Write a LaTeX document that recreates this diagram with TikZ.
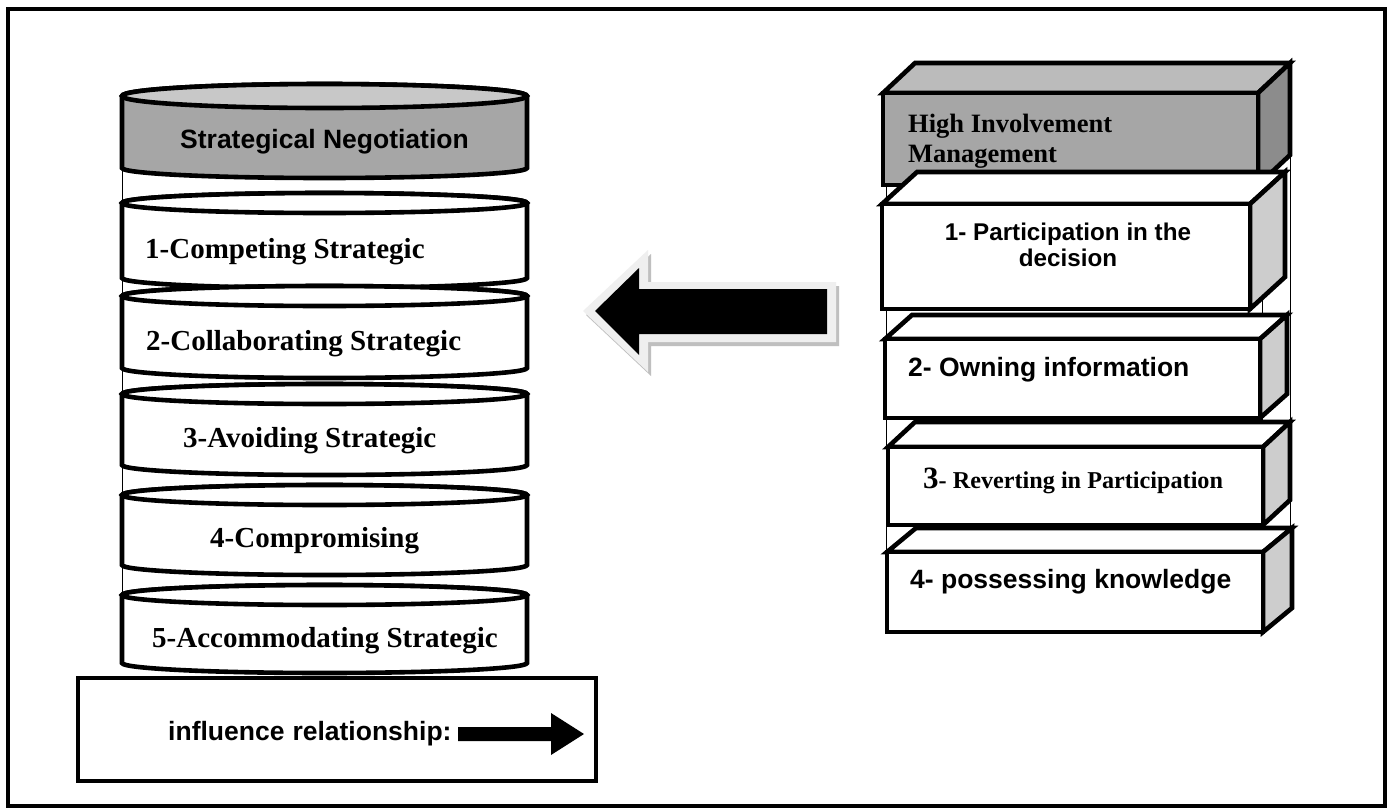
\documentclass[tikz,border=0pt]{standalone}
\usepackage{fontspec}
\setmainfont{Liberation Serif}
\newfontfamily\arialf{Liberation Sans}
\definecolor{cylgray}{HTML}{A6A6A6}
\definecolor{cyltop}{HTML}{C8C8C8}
\definecolor{hdrtop}{HTML}{BBBBBB}
\definecolor{hdrfront}{HTML}{A6A6A6}
\definecolor{hdrside}{HTML}{8C8C8C}
\definecolor{boxside}{HTML}{CDCDCD}
\definecolor{arrowrim}{HTML}{EFEFEF}
\definecolor{arrowshadow}{HTML}{BFBFBF}
% cylinder: #1 top centre y, #2 bottom centre y, #3 body fill, #4 top fill, #5 top radius
\newcommand\mycyl[5]{%
  \draw[heavy, fill=#3] (122,-#1) -- (122,-#2)
    arc[start angle=180,end angle=360,x radius=202.5,y radius=10]
    -- (527,-#1) arc[start angle=0,end angle=180,x radius=202.5,y radius=#5] -- cycle;
  \draw[heavy, fill=#4] (324.5,-#1) ellipse[x radius=202.5,y radius=#5];
}
% 3d box: x1,y1,x2,y2,dx,dy,front,top,side
\newcommand\mybox[9]{%
  \draw[heavy, fill=#8] (#1,-#2) -- (#1+#5,-#2+#6) -- (#3+#5,-#2+#6) -- (#3,-#2) -- cycle;
  \draw[heavy, fill=#9] (#3,-#2) -- (#3+#5,-#2+#6) -- (#3+#5,-#4+#6) -- (#3,-#4) -- cycle;
  \draw[heavy, fill=#7] (#1,-#2) rectangle (#3,-#4);
}
\begin{document}
\begin{tikzpicture}[x=1pt,y=1pt,line join=miter,
  heavy/.style={line width=4.6pt},
  thinline/.style={line width=1pt},
  serifb/.style={font=\fontsize{29}{32}\selectfont\bfseries, inner sep=0pt, anchor=base west},
  sansb/.style={font=\arialf\fontsize{#1}{#1}\selectfont\bfseries, inner sep=0pt}]
\useasboundingbox (0,0) rectangle (1394,-809);
\fill[white] (0,0) rectangle (1394,-809);
% outer frame
\draw[heavy] (8,-9) rectangle (1385,-806);

% ---------- left cylinder stack ----------
\draw[thinline] (122,-100) -- (122,-663);
\mycyl{96}{168}{cylgray}{cyltop}{12}
\mycyl{203}{278}{white}{white}{10}
\mycyl{296}{368}{white}{white}{10}
\mycyl{394}{465}{white}{white}{10}
\mycyl{495}{565}{white}{white}{10}
\mycyl{595}{663}{white}{white}{10}

\node[sansb=26.5, anchor=base] (sn) at (324.5,-148) {Strategical Negotiation};
\node[serifb] (c1) at (145,-258) {1-Competing Strategic};
\node[serifb] (c2) at (146,-350) {2-Collaborating Strategic};
\node[serifb] (c3) at (183,-447) {3-Avoiding Strategic};
\node[serifb] (c4) at (210,-547) {4-Compromising};
\node[serifb] (c5) at (152,-647) {5-Accommodating Strategic};

% legend box
\draw[heavy] (78,-678) rectangle (596,-781);
\node[sansb=26.5, anchor=base west] (infl) at (168,-740) {influence\hspace{8pt}relationship:};
\fill (458,-727) -- (551,-727) -- (551,-713) -- (584,-734) -- (551,-755) -- (551,-741) -- (458,-741) -- cycle;

% ---------- big arrow ----------
\fill[arrowshadow] (586,-315) -- (651,-254) -- (651,-286) -- (839,-286) -- (839,-346) -- (651,-346) -- (651,-376) -- cycle;
\fill[arrowrim] (583,-311) -- (648,-250) -- (648,-282) -- (836,-282) -- (836,-342) -- (648,-342) -- (648,-372) -- cycle;
\fill[black] (595,-311) -- (639,-268) -- (639,-289) -- (827,-289) -- (827,-334) -- (639,-334) -- (639,-355) -- cycle;

% ---------- right 3d box stack ----------
\draw[thinline] (886,-185) -- (886,-630);
\draw[thinline] (1262,-185) -- (1262,-600);
\draw[thinline] (1290,-155) -- (1290,-605);
\mybox{883}{93}{1258}{185}{32}{30}{hdrfront}{hdrtop}{hdrside}
\mybox{882}{204}{1250}{309}{35}{32}{white}{white}{boxside}
\mybox{885}{339}{1260}{418}{27}{24}{white}{white}{boxside}
\mybox{888}{447}{1263}{525}{27}{25}{white}{white}{boxside}
\mybox{887}{552}{1263}{632}{29}{24}{white}{white}{boxside}

\node[font=\fontsize{26.5}{30}\selectfont\bfseries, inner sep=0pt, anchor=base west] (h1) at (908,-132) {High Involvement};
\node[font=\fontsize{26.5}{30}\selectfont\bfseries, inner sep=0pt, anchor=base west] (h2) at (908,-162) {Management};
\node[sansb=24.2, anchor=base] (p1a) at (1068,-240) {1- Participation in the};
\node[sansb=24.2, anchor=base] (p1b) at (1068,-266) {decision};
\node[sansb=26.5, anchor=base west] (p2) at (908,-376) {2- Owning information};
\node[inner sep=0pt, anchor=base west] (p3) at (923,-488) {\bfseries\fontsize{31}{31}\selectfont 3\fontsize{24.2}{24.2}\selectfont- Reverting in Participation};
\node[sansb=26.5, anchor=base west] (p4) at (910,-588) {4- possessing knowledge};
\end{tikzpicture}
\end{document}
